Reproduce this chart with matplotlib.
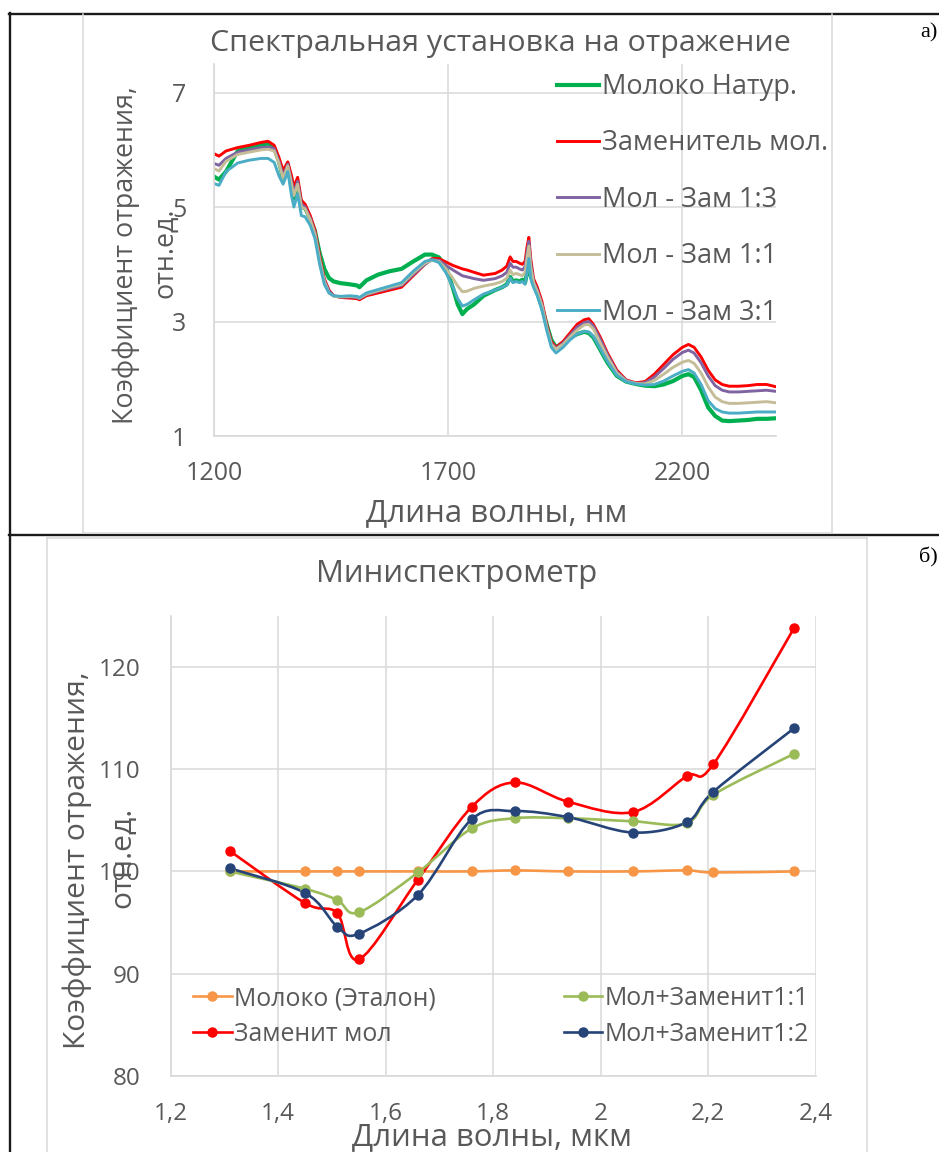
import numpy as np
import matplotlib
matplotlib.use("Agg")
import matplotlib.pyplot as plt
from matplotlib.path import Path
from matplotlib.patches import PathPatch
from matplotlib.lines import Line2D

plt.rcParams['font.family'] = ['Open Sans', 'DejaVu Sans']

# ---- панель а): спектральная установка ----
wl = [1200, 1210, 1225, 1250, 1275, 1300, 1315, 1328, 1338, 1347, 1357, 1365, 1370, 1378,
      1386, 1394, 1405, 1415, 1425, 1435, 1445, 1455, 1470, 1490, 1505, 1510, 1525, 1550,
      1575, 1600, 1625, 1650, 1665, 1680, 1695, 1710, 1720, 1730, 1740, 1755, 1775, 1800,
      1815, 1825, 1832, 1838, 1845, 1852, 1858, 1864, 1868, 1872, 1876, 1882, 1890, 1900,
      1910, 1920, 1930, 1945, 1960, 1975, 1990, 2000, 2010, 2025, 2040, 2060, 2080, 2100,
      2120, 2140, 2160, 2180, 2200, 2213, 2225, 2240, 2255, 2270, 2285, 2300, 2320, 2340,
      2360, 2380, 2400]

milk = [5.53, 5.48, 5.62, 5.98, 6.05, 6.09, 6.11, 6.04, 5.80, 5.50, 5.75, 5.35, 5.15, 5.42,
        5.00, 4.98, 4.80, 4.58, 4.20, 3.92, 3.76, 3.70, 3.67, 3.65, 3.63, 3.60, 3.72, 3.82,
        3.88, 3.92, 4.05, 4.17, 4.17, 4.12, 3.95, 3.58, 3.30, 3.13, 3.22, 3.30, 3.45, 3.55,
        3.60, 3.65, 3.78, 3.70, 3.72, 3.70, 3.73, 3.68, 3.85, 4.10, 3.80, 3.65, 3.50, 3.25,
        2.95, 2.68, 2.55, 2.63, 2.72, 2.78, 2.82, 2.80, 2.72, 2.50, 2.28, 2.05, 1.95, 1.91,
        1.88, 1.87, 1.90, 1.96, 2.05, 2.08, 2.03, 1.80, 1.50, 1.35, 1.27, 1.26, 1.27, 1.28,
        1.30, 1.30, 1.31]

subst = [5.93, 5.89, 5.98, 6.04, 6.08, 6.13, 6.15, 6.08, 5.87, 5.64, 5.79, 5.55, 5.35, 5.52,
         5.12, 5.05, 4.85, 4.60, 4.15, 3.75, 3.55, 3.45, 3.42, 3.41, 3.40, 3.38, 3.45, 3.50,
         3.55, 3.60, 3.80, 4.00, 4.10, 4.10, 4.04, 3.98, 3.95, 3.92, 3.90, 3.86, 3.81, 3.84,
         3.90, 3.97, 4.13, 4.05, 4.05, 4.02, 4.00, 4.05, 4.30, 4.47, 4.10, 3.75, 3.60, 3.35,
         2.95, 2.65, 2.55, 2.65, 2.80, 2.95, 3.03, 3.05, 2.95, 2.72, 2.45, 2.15, 1.98, 1.93,
         1.95, 2.08, 2.25, 2.42, 2.55, 2.60, 2.55, 2.38, 2.15, 1.98, 1.90, 1.87, 1.87, 1.88,
         1.90, 1.90, 1.86]

mix13 = [5.76, 5.73, 5.85, 5.96, 6.00, 6.04, 6.05, 6.02, 5.80, 5.55, 5.75, 5.45, 5.25, 5.45,
         5.05, 5.00, 4.80, 4.55, 4.10, 3.72, 3.53, 3.45, 3.43, 3.43, 3.42, 3.40, 3.47, 3.53,
         3.58, 3.63, 3.82, 4.00, 4.08, 4.07, 3.98, 3.90, 3.85, 3.80, 3.78, 3.75, 3.72, 3.75,
         3.80, 3.86, 4.02, 3.95, 3.95, 3.92, 3.90, 3.96, 4.20, 4.40, 4.02, 3.70, 3.55, 3.30,
         2.92, 2.62, 2.53, 2.62, 2.76, 2.90, 2.98, 3.00, 2.92, 2.68, 2.42, 2.12, 1.97, 1.92,
         1.93, 2.03, 2.18, 2.34, 2.46, 2.50, 2.45, 2.28, 2.05, 1.88, 1.80, 1.77, 1.77, 1.78,
         1.79, 1.80, 1.78]

mix11 = [5.67, 5.63, 5.80, 5.92, 5.96, 6.00, 6.01, 5.98, 5.77, 5.50, 5.72, 5.40, 5.20, 5.40,
         5.00, 4.97, 4.78, 4.53, 4.08, 3.70, 3.50, 3.44, 3.43, 3.44, 3.43, 3.41, 3.48, 3.54,
         3.60, 3.65, 3.85, 4.02, 4.07, 4.05, 3.92, 3.75, 3.62, 3.52, 3.53, 3.58, 3.62, 3.66,
         3.70, 3.76, 3.90, 3.82, 3.84, 3.82, 3.80, 3.86, 4.10, 4.32, 3.95, 3.68, 3.52, 3.28,
         2.90, 2.60, 2.52, 2.60, 2.73, 2.85, 2.94, 2.95, 2.87, 2.62, 2.38, 2.10, 1.96, 1.92,
         1.91, 1.97, 2.08, 2.20, 2.29, 2.32, 2.27, 2.10, 1.86, 1.68, 1.60, 1.57, 1.57, 1.58,
         1.59, 1.60, 1.58]

mix31 = [5.41, 5.38, 5.62, 5.77, 5.82, 5.85, 5.85, 5.78, 5.55, 5.40, 5.62, 5.20, 5.00, 5.23,
         4.85, 4.83, 4.68, 4.45, 4.00, 3.65, 3.50, 3.45, 3.44, 3.45, 3.44, 3.42, 3.50, 3.56,
         3.62, 3.68, 3.88, 4.05, 4.08, 4.03, 3.85, 3.60, 3.40, 3.27, 3.30, 3.38, 3.48, 3.55,
         3.60, 3.64, 3.76, 3.68, 3.70, 3.68, 3.70, 3.65, 3.85, 4.10, 3.75, 3.60, 3.45, 3.20,
         2.85, 2.55, 2.45, 2.55, 2.68, 2.78, 2.83, 2.82, 2.74, 2.52, 2.30, 2.06, 1.95, 1.91,
         1.89, 1.90, 1.96, 2.05, 2.13, 2.16, 2.10, 1.90, 1.62, 1.48, 1.42, 1.40, 1.40, 1.41,
         1.42, 1.42, 1.42]

top_names = ["Молоко Натур.", "Заменитель мол.", "Мол - Зам 1:3", "Мол - Зам 1:1", "Мол - Зам 3:1"]
top_colors = ["#00B050", "#FF0000", "#8064A2", "#C4BD97", "#4BACC6"]

# ---- панель б): миниспектрометр ----
lam = [1.31, 1.45, 1.51, 1.55, 1.66, 1.76, 1.84, 1.94, 2.06, 2.16, 2.21, 2.36]
etalon = [100.0, 100.0, 100.0, 100.0, 100.0, 100.0, 100.1, 100.0, 100.0, 100.1, 99.9, 100.0]
zam = [102.0, 96.9, 95.9, 91.4, 99.2, 106.3, 108.7, 106.8, 105.8, 109.3, 110.5, 123.8]
mz11 = [100.0, 98.3, 97.2, 96.0, 99.9, 104.2, 105.2, 105.2, 104.9, 104.7, 107.5, 111.5]
mz12 = [100.3, 97.9, 94.6, 93.9, 97.7, 105.1, 105.9, 105.3, 103.8, 104.8, 107.8, 114.0]

bot_names = ["Молоко (Эталон)", "Заменит мол", "Мол+Заменит1:1", "Мол+Заменит1:2"]
bot_colors = ["#F79646", "#FF0000", "#9BBB59", "#264478"]

W, H = 939, 1152
txt = "#595959"
grid_c = "#D9D9D9"


def fx(px):
    return px / W


def fy(py):
    return 1 - py / H


def smooth_path(x, y):
    # сглаживание как в Excel (Catmull-Rom -> кривые Безье)
    p = np.column_stack([x, y]).astype(float)
    n = len(p)
    verts = [p[0]]
    codes = [Path.MOVETO]
    for i in range(n - 1):
        p0 = p[i - 1] if i > 0 else p[i]
        p3 = p[i + 2] if i + 2 < n else p[i + 1]
        verts += [p[i] + (p[i + 1] - p0) / 6, p[i + 1] - (p3 - p[i]) / 6, p[i + 1]]
        codes += [Path.CURVE4] * 3
    return Path(verts, codes)


def style_axes(ax):
    for s in ["top", "right"]:
        ax.spines[s].set_visible(False)
    for s in ["left", "bottom"]:
        ax.spines[s].set_color(grid_c)
        ax.spines[s].set_linewidth(1.2)
    ax.grid(True, color=grid_c, lw=1.1)
    ax.set_axisbelow(True)
    ax.tick_params(length=0, colors=txt)


fig = plt.figure(figsize=(W / 100, H / 100), dpi=100)

# рамка таблицы и границы областей диаграмм
for xs, ys, c, lw in [([9.5, 9.5], [13, H], "#1a1a1a", 1.7),
                      ([9, W], [13.5, 13.5], "#1a1a1a", 1.7),
                      ([9, W], [535, 535], "#1a1a1a", 1.7),
                      ([83, 83], [14, 533], grid_c, 1.1),
                      ([832, 832], [14, 533], grid_c, 1.1),
                      ([83, 832], [533, 533], grid_c, 1.1),
                      ([47, 47], [538, H], grid_c, 1.1),
                      ([867, 867], [538, H], grid_c, 1.1),
                      ([47, 867], [538, 538], grid_c, 1.1)]:
    fig.add_artist(Line2D([fx(v) for v in xs], [fy(v) for v in ys], color=c, lw=lw))

fig.text(fx(938), fy(33), "а)", family="Liberation Serif", fontsize=16, ha="right", va="center")
fig.text(fx(938), fy(557), "б)", family="Liberation Serif", fontsize=16, ha="right", va="center")

# ---------- а) ----------
ax1 = fig.add_axes([fx(214.3), fy(436), fx(776) - fx(214.3), fy(64) - fy(436)])
style_axes(ax1)
for vals, name, col in zip([milk, subst, mix13, mix11, mix31], top_names, top_colors):
    ax1.plot(wl, vals, color=col, lw=3.0 if col == "#00B050" else 2.1, label=name,
             solid_joinstyle="round")
ax1.set_xlim(1200, 2400)
ax1.set_ylim(1, 7.5)
ax1.set_xticks([1200, 1700, 2200])
ax1.set_yticks([1, 3, 5, 7])
ax1.tick_params(axis="x", labelsize=18, pad=18)
ax1.tick_params(axis="y", labelsize=18, pad=20)
ax1.legend(loc="upper left", bbox_to_anchor=(fx(557), fy(73)), bbox_transform=fig.transFigure,
           frameon=False, fontsize=19.5, handlelength=1.55, handletextpad=0.1,
           labelspacing=1.05, borderpad=0, borderaxespad=0, labelcolor=txt)

fig.text(fx(500), fy(43), "Спектральная установка на отражение", fontsize=21.9, color=txt,
         ha="center", va="center")
fig.text(fx(497), fy(513), "Длина волны, нм", fontsize=22.5, color=txt, ha="center", va="center")
fig.text(fx(126), fy(255), "Коэффициент отражения,", fontsize=19.4, color=txt, rotation=90,
         ha="center", va="center")
fig.text(fx(165), fy(253), "отн.ед.", fontsize=19.4, color=txt, rotation=90,
         ha="center", va="center")

# ---------- б) ----------
ax2 = fig.add_axes([fx(170.7), fy(1076), fx(815.6) - fx(170.7), fy(615.7) - fy(1076)])
style_axes(ax2)
handles = []
for vals, name, col in zip([etalon, zam, mz11, mz12], bot_names, bot_colors):
    ax2.add_patch(PathPatch(smooth_path(lam, vals), fill=False, edgecolor=col, lw=1.9,
                            capstyle="round", joinstyle="round"))
    ax2.plot(lam, vals, ls="none", marker="o", ms=6.5, color=col)
    handles.append(Line2D([], [], color=col, lw=1.9, marker="o", ms=6.5, label=name))
ax2.set_xlim(1.2, 2.4)
ax2.set_ylim(80, 125)
ax2.set_xticks(np.round(np.arange(1.2, 2.41, 0.2), 1))
ax2.set_xticklabels(["1,2", "1,4", "1,6", "1,8", "2", "2,2", "2,4"])
ax2.set_yticks([80, 90, 100, 110, 120])
ax2.tick_params(axis="x", labelsize=17.5, pad=19)
ax2.tick_params(axis="y", labelsize=17.5, pad=22)
ax2.legend(handles=handles, ncol=2, loc="upper left", bbox_to_anchor=(fx(193), fy(986)),
           bbox_transform=fig.transFigure, frameon=False, fontsize=17.9, handlelength=1.55,
           handletextpad=0.1, labelspacing=0.45, columnspacing=5.15, borderpad=0,
           borderaxespad=0, labelcolor=txt)

fig.text(fx(457), fy(574), "Миниспектрометр", fontsize=22.4, color=txt, ha="center", va="center")
fig.text(fx(492), fy(1137), "Длина волны, мкм", fontsize=22.4, color=txt, ha="center", va="center")
fig.text(fx(77), fy(860), "Коэффициент отражения,", fontsize=21.6, color=txt, rotation=90,
         ha="center", va="center")
fig.text(fx(123), fy(857), "отн.ед.", fontsize=21.6, color=txt, rotation=90,
         ha="center", va="center")

fig.savefig("out.png", dpi=100)
